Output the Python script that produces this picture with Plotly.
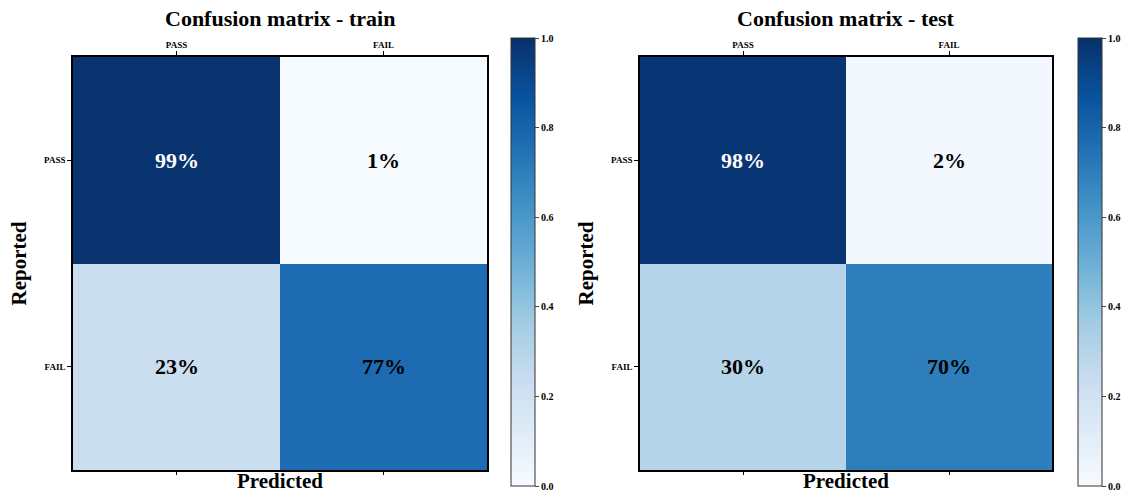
import plotly.graph_objects as go

labels = ["PASS", "FAIL"]
train_values = [[0.99, 0.01], [0.23, 0.77]]
test_values = [[0.98, 0.02], [0.30, 0.70]]
titles = ["Confusion matrix - train", "Confusion matrix - test"]
cbar_ticks = [0.0, 0.2, 0.4, 0.6, 0.8, 1.0]
white_text_threshold = 0.9

blues = [
    [0.0, "#f7fbff"], [0.125, "#deebf7"], [0.25, "#c6dbef"], [0.375, "#9ecae1"],
    [0.5, "#6baed6"], [0.625, "#4292c6"], [0.75, "#2171b5"], [0.875, "#08519c"],
    [1.0, "#08306b"],
]

W, H = 1123, 493
FONT = "Liberation Serif"

def px_x(p):
    return p / W

def px_y(p):
    return 1 - p / H

panels = [
    dict(vals=train_values, x0=73, x1=487, cb=511, xa="x", ya="y", xb="x3"),
    dict(vals=test_values, x0=640, x1=1052, cb=1078, xa="x2", ya="y2", xb="x4"),
]
top, bottom = 57, 470
cb_top, cb_bottom = 38, 486

fig = go.Figure()
annotations = []
layout = {}
idx = [0, 1]

for i, p in enumerate(panels):
    fig.add_trace(go.Heatmap(
        z=p["vals"], x=idx, y=idx, colorscale=blues, zmin=0, zmax=1,
        xaxis=p["xa"], yaxis=p["ya"], hoverinfo="skip",
        colorbar=dict(
            x=px_x(p["cb"]), xanchor="left", xref="paper", xpad=0, ypad=0,
            y=px_y((cb_top + cb_bottom) / 2), yanchor="middle",
            len=(cb_bottom - cb_top) / H, lenmode="fraction", thickness=24,
            thicknessmode="pixels",
            outlinewidth=1, outlinecolor="#333",
            tickvals=cbar_ticks, ticktext=[f"{t:.1f}" for t in cbar_ticks],
            ticks="outside", ticklen=4, tickcolor="#444",
            ticklabeloverflow="allow",
            tickfont=dict(family=FONT, size=10, color="black", weight="bold"),
        ),
    ))
    # dummy trace to draw bottom axis
    fig.add_trace(go.Scatter(x=[], y=[], xaxis=p["xb"], yaxis=p["ya"],
                             showlegend=False, hoverinfo="skip"))
    dom = [px_x(p["x0"]), px_x(p["x1"])]
    ydom = [px_y(bottom), px_y(top)]
    xn = p["xa"].replace("x", "xaxis")
    yn = p["ya"].replace("y", "yaxis")
    bn = p["xb"].replace("x", "xaxis")
    layout[xn] = dict(
        domain=dom, anchor=p["ya"], side="top", range=[-0.5, 1.5],
        tickvals=idx, ticktext=labels, ticks="outside", ticklen=4,
        tickcolor="black", showgrid=False, zeroline=False,
        showline=True, linecolor="black", linewidth=1.5, mirror=True,
        tickfont=dict(family=FONT, size=9, color="black", weight="bold"),
    )
    layout[bn] = dict(
        domain=dom, anchor=p["ya"], side="bottom", overlaying=p["xa"],
        range=[-0.5, 1.5], tickvals=idx, ticks="outside", ticklen=4,
        tickcolor="black", showticklabels=False, showgrid=False,
        zeroline=False, showline=False,
        title=dict(text="Predicted", standoff=12,
                   font=dict(family=FONT, size=21, color="black", weight="bold")),
    )
    layout[yn] = dict(
        domain=ydom, anchor=p["xa"], range=[1.5, -0.5],
        tickvals=idx, ticktext=labels, ticks="outside", ticklen=4,
        tickcolor="black", showgrid=False, zeroline=False,
        showline=True, linecolor="black", linewidth=1.5, mirror=True,
        tickfont=dict(family=FONT, size=9, color="black", weight="bold"),
        title=dict(text="Reported", standoff=12,
                   font=dict(family=FONT, size=21, color="black", weight="bold")),
    )
    for r in range(2):
        for c in range(2):
            v = p["vals"][r][c]
            annotations.append(dict(
                x=idx[c], y=idx[r], xref=p["xa"], yref=p["ya"],
                text=f"{round(v * 100)}%", showarrow=False,
                font=dict(family=FONT, size=22, weight="bold",
                          color="white" if v > white_text_threshold else "black"),
            ))
    annotations.append(dict(
        x=(dom[0] + dom[1]) / 2, y=px_y(19), xref="paper", yref="paper",
        text=titles[i], showarrow=False, xanchor="center", yanchor="middle",
        font=dict(family=FONT, size=22, color="black", weight="bold"),
    ))

fig.update_layout(
    width=W, height=H, margin=dict(l=0, r=0, t=0, b=0, autoexpand=False),
    paper_bgcolor="white", plot_bgcolor="white",
    annotations=annotations, **layout,
)

fig.write_html("out.html")
